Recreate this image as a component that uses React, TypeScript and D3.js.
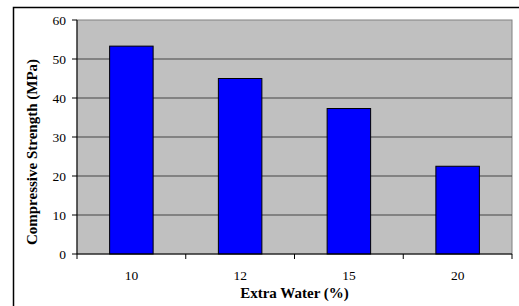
import React from "react";
import * as d3 from "d3";

const categories = ["10", "12", "15", "20"];
const strength = [53.3, 45.0, 37.3, 22.5];
const yTicks = [0, 10, 20, 30, 40, 50, 60];

export default function App() {
  const W = 519, H = 306;
  const left = 77, right = 512, top = 20, bottom = 254;
  const x = d3.scaleBand<string>().domain(categories).range([left, right]).paddingInner(0).paddingOuter(0);
  const y = d3.scaleLinear().domain([0, 60]).range([bottom, top]);
  const bw = x.bandwidth() * 0.4;
  const font = "'Liberation Serif', 'Times New Roman', serif";
  const boundaries = categories.map((c) => (x(c) as number)).concat([right]);
  return (
    <svg width={W} height={H} style={{ position: "absolute", left: 0, top: 0, fontFamily: font }}>
      <rect x={0} y={0} width={W} height={H} fill="#fff" />
      <rect x={13.5} y={7.5} width={W + 10} height={H + 10} fill="none" stroke="#000" strokeWidth={1.5} />
      <rect x={left} y={top} width={right - left} height={bottom - top} fill="#C0C0C0" stroke="#808080" strokeWidth={1} />
      {yTicks.filter((t) => t > 0 && t < 60).map((t) => (
        <line key={t} x1={left} x2={right} y1={y(t)} y2={y(t)} stroke="#444" strokeWidth={1} />
      ))}
      {categories.map((c, i) => {
        const cx = (x(c) as number) + x.bandwidth() / 2;
        return (
          <rect key={c} x={cx - bw / 2} y={y(strength[i])} width={bw} height={bottom - y(strength[i])}
            fill="#0000FF" stroke="#000" strokeWidth={1} />
        );
      })}
      <line x1={left} x2={left} y1={top} y2={bottom} stroke="#000" strokeWidth={1} />
      <line x1={left} x2={right} y1={bottom} y2={bottom} stroke="#000" strokeWidth={1} />
      {yTicks.map((t) => (
        <g key={t}>
          <line x1={left - 5} x2={left} y1={y(t)} y2={y(t)} stroke="#000" />
          <text x={left - 11} y={y(t)} dy="0.35em" textAnchor="end" fontSize={13.5}>{t}</text>
        </g>
      ))}
      {boundaries.map((b, i) => (
        <line key={i} x1={b} x2={b} y1={bottom} y2={bottom + 5} stroke="#000" />
      ))}
      {categories.map((c) => (
        <text key={c} x={(x(c) as number) + x.bandwidth() / 2} y={280} textAnchor="middle" fontSize={13.5}>{c}</text>
      ))}
      <text x={(left + right) / 2} y={298} textAnchor="middle" fontSize={15} fontWeight="bold">Extra Water (%)</text>
      <text transform={`translate(37,152) rotate(-90)`} textAnchor="middle" fontSize={15} fontWeight="bold">Compressive Strength (MPa)</text>
    </svg>
  );
}
